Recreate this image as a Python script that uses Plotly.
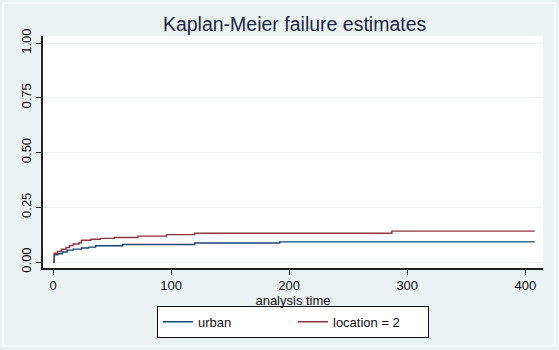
import plotly.graph_objects as go

# Kaplan-Meier failure estimates
urban_t = [0, 1, 4, 8, 12, 17, 24, 30, 36, 59, 120, 192, 408]
urban_f = [0.0, 0.033, 0.038, 0.046, 0.054, 0.059, 0.064, 0.068, 0.074, 0.080, 0.087, 0.092, 0.092]

loc2_t = [0, 1, 4, 7, 11, 14, 17, 22, 24, 32, 40, 52, 72, 96, 120, 287, 408]
loc2_f = [0.0, 0.040, 0.048, 0.058, 0.066, 0.075, 0.082, 0.088, 0.099, 0.104, 0.108, 0.112, 0.118,
          0.125, 0.131, 0.141, 0.141]

x_ticks = [0, 100, 200, 300, 400]
y_ticks = [0, 0.25, 0.5, 0.75, 1.0]
y_ticklabels = ["0.00", "0.25", "0.50", "0.75", "1.00"]

BG = "#EAF2F3"
FONT = "Liberation Sans, Arial, sans-serif"

fig = go.Figure()
fig.add_trace(go.Scatter(x=urban_t, y=urban_f, mode="lines", line_shape="hv",
                         line=dict(color="#1a476f", width=1.4), name="urban"))
fig.add_trace(go.Scatter(x=loc2_t, y=loc2_f, mode="lines", line_shape="hv",
                         line=dict(color="#90353b", width=1.4), name="location = 2"))

fig.update_layout(
    width=559, height=350,
    margin=dict(l=43, r=16, t=36, b=82, autoexpand=False),
    paper_bgcolor=BG, plot_bgcolor="white",
    font=dict(family=FONT, color="#111111", size=13),
    title=dict(text="Kaplan-Meier failure estimates", x=0.527, xanchor="center",
               yref="container", y=0.931, yanchor="middle",
               font=dict(size=19.5, color="#1c2540", family=FONT)),
    showlegend=True,
    legend=dict(orientation="h", x=0.5, xanchor="center", y=-0.163, yanchor="top",
                bgcolor="white", bordercolor="#111111", borderwidth=1,
                font=dict(size=13, family=FONT, color="#111111"),
                entrywidth=90, entrywidthmode="pixels", itemwidth=30,
                tracegroupgap=0),
    xaxis=dict(range=[-8.5, 415], tickvals=x_ticks, showgrid=False, zeroline=False,
               automargin=False,
               showline=True, linecolor="#222222", linewidth=1.5,
               ticks="outside", ticklen=5, tickcolor="#222222",
               tickfont=dict(size=13),
               title=dict(text="analysis time", standoff=0, font=dict(size=13))),
    yaxis=dict(range=[-0.0274, 1.032], tickvals=y_ticks, ticktext=y_ticklabels,
               automargin=False,
               tickangle=-90, showgrid=True, gridcolor=BG, gridwidth=1, zeroline=False,
               showline=True, linecolor="#222222", linewidth=1.5,
               ticks="outside", ticklen=5, tickcolor="#222222",
               tickfont=dict(size=13)),
    shapes=[dict(type="rect", xref="paper", yref="paper",
                 x0=-0.08, x1=1.024, y0=-0.336, y1=1.142,
                 line=dict(color="white", width=1), fillcolor="rgba(0,0,0,0)", layer="below")],
)

fig.write_html("out.html", config={"displayModeBar": False},
               post_script="document.body.style.margin='0';")
